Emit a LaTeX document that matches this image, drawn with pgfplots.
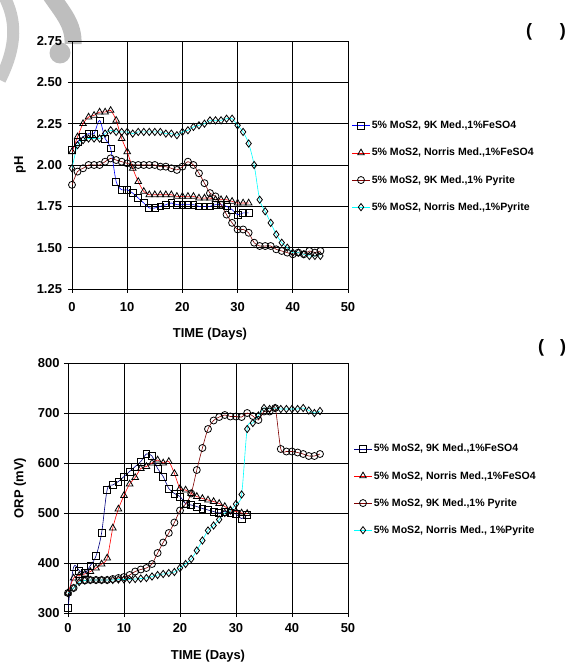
\documentclass[border=0pt]{standalone}
\usepackage{pgfplots}
\pgfplotsset{compat=1.18}
\usepackage{pgfplotstable}
\usepackage{fontspec}
\setmainfont{Liberation Sans}

% pH data
\pgfplotstableread{
d v
0 2.09
1 2.14
2 2.17
3 2.19
4 2.19
5 2.27
6 2.16
7 2.10
8 1.90
9 1.85
10 1.85
11 1.83
12 1.80
13 1.77
14 1.74
15 1.74
16 1.75
17 1.76
18 1.77
19 1.76
20 1.76
21 1.76
22 1.76
23 1.75
24 1.75
25 1.75
26 1.76
27 1.76
28 1.75
29 1.73
30 1.70
31 1.71
32 1.71
}\phA
\pgfplotstableread{
d v
0 2.08
1 2.17
2 2.25
3 2.29
4 2.30
5 2.32
6 2.32
7 2.33
8 2.27
9 2.16
10 2.08
11 1.98
12 1.90
13 1.84
14 1.82
15 1.82
16 1.82
17 1.82
18 1.82
19 1.81
20 1.81
21 1.81
22 1.81
23 1.80
24 1.80
25 1.80
26 1.79
27 1.79
28 1.79
29 1.78
30 1.77
31 1.77
32 1.77
}\phB
\pgfplotstableread{
d v
0 1.88
1 1.96
2 1.98
3 2.00
4 2.00
5 2.00
6 2.02
7 2.04
8 2.03
9 2.02
10 2.01
11 2.00
12 2.00
13 2.00
14 2.00
15 2.00
16 1.99
17 1.99
18 1.98
19 1.97
20 1.99
21 2.02
22 2.00
23 1.95
24 1.89
25 1.83
26 1.81
27 1.76
28 1.70
29 1.65
30 1.61
31 1.61
32 1.59
33 1.53
34 1.51
35 1.51
36 1.51
37 1.49
38 1.48
39 1.47
40 1.46
41 1.47
42 1.46
43 1.48
44 1.47
45 1.48
}\phC
\pgfplotstableread{
d v
0 1.98
1 2.12
2 2.15
3 2.16
4 2.16
5 2.16
6 2.19
7 2.21
8 2.20
9 2.20
10 2.20
11 2.19
12 2.20
13 2.20
14 2.20
15 2.20
16 2.20
17 2.19
18 2.19
19 2.18
20 2.20
21 2.21
22 2.23
23 2.24
24 2.25
25 2.27
26 2.27
27 2.27
28 2.28
29 2.28
30 2.24
31 2.20
32 2.13
33 2.00
34 1.79
35 1.72
36 1.65
37 1.58
38 1.53
39 1.50
40 1.47
41 1.47
42 1.46
43 1.45
44 1.45
45 1.45
}\phD

% ORP data
\pgfplotstableread{
d v
0 310
1 392
2 385
3 380
4 395
5 414
6 460
7 547
8 556
9 563
10 573
11 583
12 593
13 603
14 618
15 614
16 589
17 573
18 549
19 539
20 533
21 519
22 516
23 513
24 509
25 506
26 503
27 500
28 503
29 500
30 498
31 489
32 496
}\orA
\pgfplotstableread{
d v
0 340
1 370
2 375
3 378
4 383
5 390
6 398
7 410
8 470
9 508
10 535
11 558
12 571
13 589
14 593
15 600
16 606
17 600
18 603
19 579
20 549
21 546
22 539
23 533
24 529
25 526
26 523
27 519
28 513
29 506
30 503
31 500
32 499
}\orB
\pgfplotstableread{
d v
0 340
1 350
2 365
3 365
4 366
5 366
6 366
7 366
8 368
9 370
10 372
11 376
12 383
13 387
14 390
15 398
16 420
17 441
18 460
19 481
20 505
21 518
22 539
23 586
24 630
25 668
26 685
27 692
28 696
29 693
30 693
31 692
32 700
33 694
34 686
35 703
36 703
37 710
38 628
39 623
40 623
41 621
42 618
43 614
44 614
45 618
}\orC
\pgfplotstableread{
d v
0 340
1 350
2 362
3 365
4 366
5 366
6 366
7 366
8 366
9 367
10 367
11 367
12 368
13 369
14 370
15 373
16 376
17 378
18 380
19 382
20 390
21 398
22 408
23 425
24 445
25 465
26 475
27 487
28 500
29 505
30 518
31 537
32 668
33 680
34 695
35 710
36 708
37 710
38 708
39 708
40 708
41 708
42 710
43 705
44 700
45 704
}\orD

\definecolor{navy}{RGB}{0,0,128}
\definecolor{darkred}{RGB}{128,0,0}
\definecolor{aqua}{RGB}{0,255,255}
\definecolor{wm}{RGB}{200,200,200}
\definecolor{wmb}{RGB}{190,190,190}

\pgfplotsset{
  mystyle/.style={
    scale only axis,
    xmin=0, xmax=50, xtick={0,10,...,50},
    grid=major,
    major grid style={black, line width=0.6bp},
    axis line style={black, line width=0.8bp},
    tick align=outside,
    major tick length=4bp,
    tick style={black, line width=0.6bp},
    xtick pos=bottom, ytick pos=left,
    /pgf/number format/assume math mode=true,
    tick label style={font=\bfseries\fontsize{13}{15}\selectfont},
    label style={font=\bfseries\fontsize{13}{15}\selectfont},
    legend style={draw=none, fill=none, font=\bfseries\fontsize{10.6}{12}\selectfont,
      at={(1.0,0.494)}, anchor=west, row sep=14bp, inner xsep=1bp},
    legend cell align=left,
    every axis plot/.append style={line width=0.6bp, smooth, tension=0.5},
    xlabel={TIME (Days)},
  },
  sq/.style={mark=square, mark size=3.4bp, mark options={draw=black, fill=none, solid, line width=0.8bp}},
  tr/.style={mark=triangle, mark size=3.8bp, mark options={draw=black, fill=none, solid, line width=0.8bp}},
  ci/.style={mark=o, mark size=3.5bp, mark options={draw=black, fill=none, solid, line width=0.8bp}},
  di/.style={mark=diamond, mark size=3.6bp, mark options={draw=black, fill=none, solid, line width=0.8bp}},
}

\begin{document}
\begin{tikzpicture}
\useasboundingbox (0,0) rectangle (574bp,664bp);
% decorative watermark
\draw[wm, line width=12bp] (4bp,668bp) .. controls (16bp,645bp) and (18bp,620bp) .. (0bp,584bp);
\draw[wmb, line width=17bp] (50bp,670bp) .. controls (62bp,652bp) and (74bp,640bp) .. (73bp,620bp);
\fill[wmb] (60bp,611bp) circle (10.5bp);
\begin{axis}[mystyle,
  at={(72bp,375bp)}, anchor=south west,
  width=276bp, height=248bp,
  ymin=1.25, ymax=2.75, ytick={1.25,1.5,...,2.75},
  yticklabel style={xshift=-2.5bp, /pgf/number format/.cd, fixed, fixed zerofill, precision=2},
  xticklabel style={yshift=-6bp},
  ylabel={pH},
  xlabel style={at={(axis description cs:0.5,-0.181)}, anchor=center},
  ylabel style={at={(axis description cs:-0.188,0.5)}, anchor=center},
  legend style={xshift=3bp},
]
\addplot[color=blue, sq] table[x=d,y=v]{\phA};
\addlegendentry{5\% MoS2, 9K Med.,1\%FeSO4}
\addplot[color=red, tr] table[x=d,y=v]{\phB};
\addlegendentry{5\% MoS2, Norris Med.,1\%FeSO4}
\addplot[color=darkred, ci] table[x=d,y=v]{\phC};
\addlegendentry{5\% MoS2, 9K Med.,1\% Pyrite}
\addplot[color=aqua, di] table[x=d,y=v]{\phD};
\addlegendentry{5\% MoS2, Norris Med.,1\%Pyrite}
\end{axis}

\begin{axis}[mystyle,
  at={(68bp,51bp)}, anchor=south west,
  width=280bp, height=250bp,
  ymin=300, ymax=800, ytick={300,400,...,800},
  xticklabel style={yshift=-3bp},
  yticklabel style={xshift=-1bp},
  ylabel={ORP (mV)},
  xlabel style={at={(axis description cs:0.5,-0.173)}, anchor=center},
  ylabel style={at={(axis description cs:-0.171,0.5)}, anchor=center},
  legend style={xshift=5bp},
]
\addplot[color=navy, sq] table[x=d,y=v]{\orA};
\addlegendentry{5\% MoS2, 9K Med.,1\%FeSO4}
\addplot[color=red, tr] table[x=d,y=v]{\orB};
\addlegendentry{5\% MoS2, Norris Med.,1\%FeSO4}
\addplot[color=darkred, ci] table[x=d,y=v]{\orC};
\addlegendentry{5\% MoS2, 9K Med.,1\% Pyrite}
\addplot[color=aqua, di] table[x=d,y=v]{\orD};
\addlegendentry{5\% MoS2, Norris Med., 1\%Pyrite}
\end{axis}

\node[font=\bfseries\fontsize{18}{20}\selectfont, inner sep=0pt] at (546bp,632bp) {(\hspace{28bp})};
\node[font=\bfseries\fontsize{18}{20}\selectfont, inner sep=0pt] at (552bp,316bp) {(\hspace{16bp})};
\end{tikzpicture}
\end{document}
